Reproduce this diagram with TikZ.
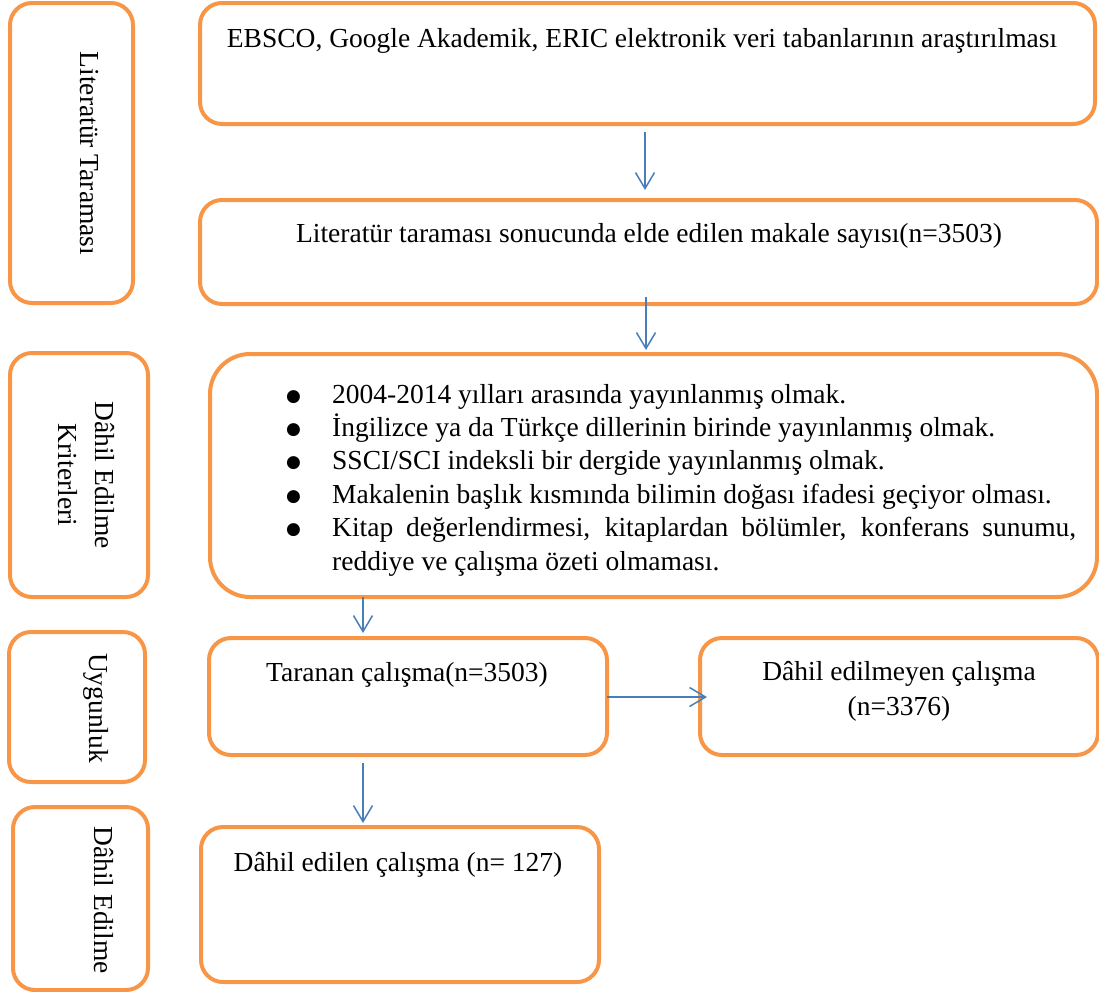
\documentclass[tikz,border=0pt]{standalone}
\usepackage{fontspec}
\setmainfont{Liberation Serif}
\newfontfamily\bulletfont{DejaVu Sans}
\usetikzlibrary{arrows.meta}
\definecolor{boxorange}{HTML}{F79646}
\definecolor{arrblue}{HTML}{4A7EBB}
\newcommand{\mybul}{\raisebox{2pt}{\bulletfont\fontsize{17}{17}\selectfont ●}}
\begin{document}
\begin{tikzpicture}[x=1pt,y=-1pt,
  box/.style={draw=boxorange, line width=4pt, rounded corners=22pt, inner sep=0pt, outer sep=0pt},
  txt/.style={font=\fontsize{27.5}{35}\selectfont, inner sep=0pt, anchor=base},
  vtxt/.style={txt, rotate=-90},
  arr/.style={draw=arrblue, line width=1.5pt, -{Straight Barb[length=16pt,width=19pt]}}]
\useasboundingbox (0,0) rectangle (1099,991);
% left label boxes
\node[box, minimum width=123pt, minimum height=300pt] (L1) at (71.5,153) {};
\node[box, minimum width=138pt, minimum height=244pt] (L2) at (79,475) {};
\node[box, minimum width=136pt, minimum height=150pt] (L3) at (77,707) {};
\node[box, minimum width=135pt, minimum height=183pt] (L4) at (80.5,898.5) {};
% main boxes
\node[box, minimum width=895pt, minimum height=121pt] (A) at (647.5,63.5) {};
\node[box, minimum width=897pt, minimum height=104pt] (B) at (648.5,252) {};
\node[box, rounded corners=40pt, minimum width=887pt, minimum height=243pt] (C) at (653.5,475.5) {};
\node[box, minimum width=398pt, minimum height=117pt] (D) at (408,696.5) {};
\node[box, minimum width=398pt, minimum height=117pt] (E) at (899,696.5) {};
\node[box, minimum width=398pt, minimum height=155pt] (F) at (400,904.5) {};
% vertical labels
\node[vtxt] (tL1) at (80,153.5) {Literatür Taraması};
\node[vtxt, font=\fontsize{27.5}{37}\selectfont] (tL2) at (95,475) {\begin{tabular}[t]{@{}c@{}}Dâhil Edilme\\Kriterleri\end{tabular}};
\node[vtxt] (tL3) at (89,708) {Uygunluk};
\node[vtxt] (tL4) at (94,900) {Dâhil Edilme};
% texts
\node[txt] (tA) at (642,47) {EBSCO, Google Akademik, ERIC elektronik veri tabanlarının araştırılması};
\node[txt] (tB) at (649,242) {Literatür taraması sonucunda elde edilen makale sayısı(n=3503)};
\node[txt, anchor=base west, font=\fontsize{27.5}{33.4}\selectfont] (tC) at (286,403) {\begin{tabular}[t]{@{}p{46pt}@{}l@{}}
\mybul & 2004-2014 yılları arasında yayınlanmış olmak.\\
\mybul & İngilizce ya da Türkçe dillerinin birinde yayınlanmış olmak.\\
\mybul & SSCI/SCI indeksli bir dergide yayınlanmış olmak.\\
\mybul & Makalenin başlık kısmında bilimin doğası ifadesi geçiyor olması.\\
\mybul & \makebox[744pt][s]{Kitap değerlendirmesi, kitaplardan bölümler, konferans sunumu,}\\
 & reddiye ve çalışma özeti olmaması.
\end{tabular}};
\node[txt] (tD) at (407,681) {Taranan çalışma(n=3503)};
\node[txt] (tE) at (899,680) {\begin{tabular}[t]{@{}c@{}}Dâhil edilmeyen çalışma\\(n=3376)\end{tabular}};
\node[txt] (tF) at (398,871) {Dâhil edilen çalışma (n= 127)};
% arrows
\coordinate (a1) at (645,0);
\coordinate (a2) at (646,0);
\coordinate (a3) at (363,0);
\coordinate (a4) at (0,697);
\draw[arr, shorten <=8pt, shorten >=10pt] (A.south -| a1) -- (B.north -| a1);
\draw[arr, shorten <=-7pt, shorten >=4pt] (B.south -| a2) -- (C.north -| a2);
\draw[arr, shorten >=5pt] (C.south -| a3) -- (D.north -| a3);
\draw[arr, shorten >=-7pt] (D.east |- a4) -- (E.west |- a4);
\draw[arr, shorten <=8pt, shorten >=4pt] (D.south -| a3) -- (F.north -| a3);
\end{tikzpicture}
\end{document}
